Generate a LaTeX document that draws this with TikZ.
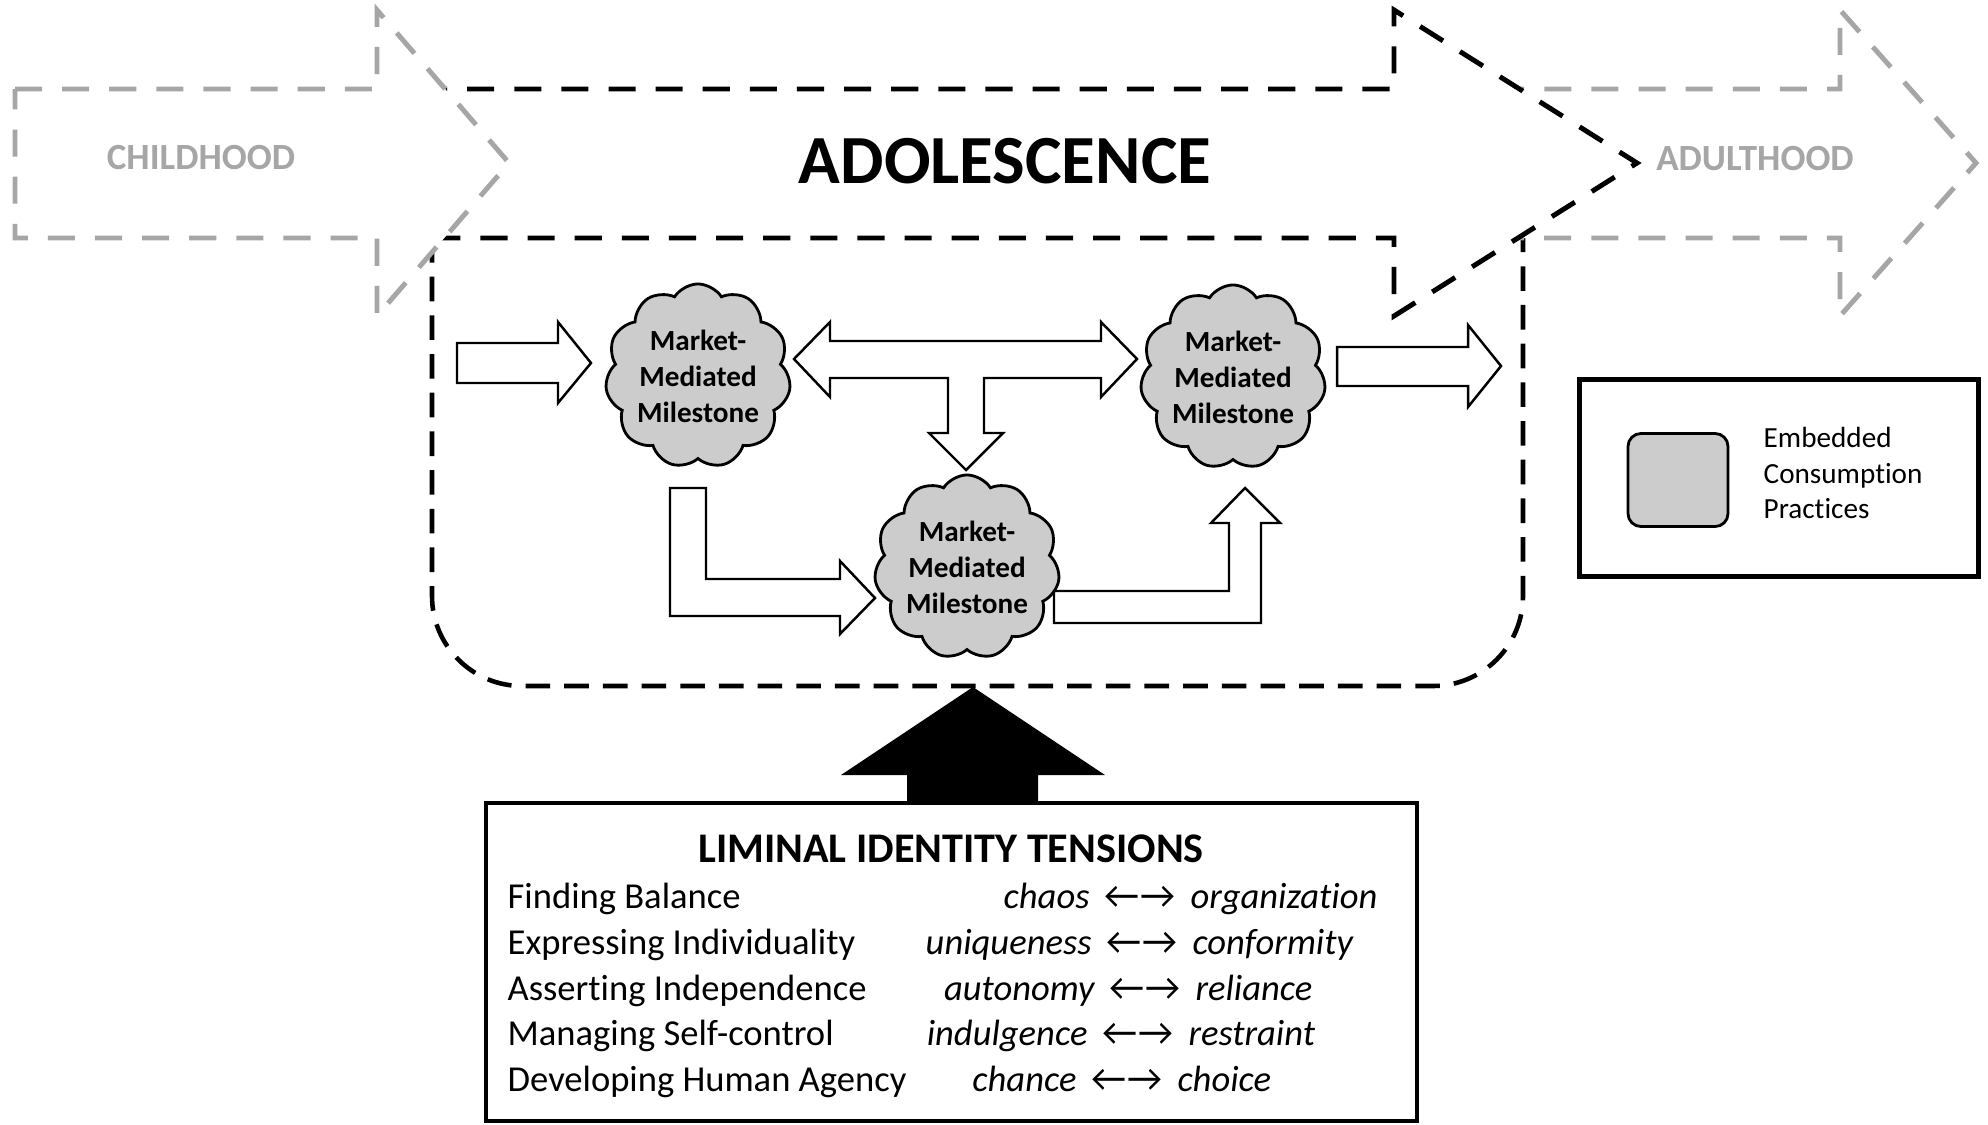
\documentclass[tikz,border=0pt]{standalone}
\usepackage{fontspec}
\setmainfont{Carlito}[Ligatures=NoCommon]
\usepackage{tikz}
\usetikzlibrary{shapes.symbols}

\begin{document}
\begin{tikzpicture}[x=0.01cm, y=-0.01cm,
    stage/.style={line width=1.4pt, dash pattern=on 7.7pt off 5.7pt, fill=white},
    blockarrow/.style={draw=black, line width=0.7pt, fill=white},
    milestone/.style={cloud, cloud puffs=11, cloud puff arc=115, cloud ignores aspect,
        draw=black, line width=0.8pt, fill=black!20, inner sep=0pt,
        minimum width=1.72cm, minimum height=1.84cm, align=center,
        font=\bfseries\fontsize{8.3}{10.2}\selectfont},
    stagename/.style={anchor=base, text=black!35, font=\bfseries\fontsize{10.5}{12}\selectfont},
    rowtext/.style={inner sep=0pt, font=\fontsize{10.4}{12}\selectfont},
  ]
  \useasboundingbox (0,0) rectangle (1988,1124);

  % the frame round the milestones
  \draw[line width=1.3pt, dash pattern=on 7pt off 4pt, rounded corners=0.9cm]
    (432,238) -- (432,686) -- (1523,686) -- (1523,238);

  % the three stages, back to front
  \draw[stage, draw=black!35] (1450,89) -- (1840,89) -- (1840,10) -- (1976,163) -- (1840,316) -- (1840,238) -- (1450,238) -- cycle;
  \draw[stage, draw=black] (420,89) -- (1394,89) -- (1394,10) -- (1637,163) -- (1394,316) -- (1394,238) -- (420,238) -- cycle;
  \draw[stage, draw=black!35] (15,89) -- (377,89) -- (377,10) -- (509,163) -- (377,316) -- (377,238) -- (15,238) -- cycle;

  \node[stagename] (child) at (201,169) {CHILDHOOD};
  \node[anchor=base, font=\bfseries\fontsize{19.6}{23}\selectfont] (adol) at (1005,183) {ADOLESCENCE};
  \node[stagename] (adult) at (1755,170) {ADULTHOOD};

  % milestones
  \node[milestone] (mmA) at (698,376) {Market-\\Mediated\\Milestone};
  \node[milestone] (mmB) at (967,567) {Market-\\Mediated\\Milestone};
  \node[milestone] (mmC) at (1233,377) {Market-\\Mediated\\Milestone};

  % block arrows
  \draw[blockarrow] (457,343) -- (558,343) -- (558,322) -- (591,363) -- (558,403) -- (558,383) -- (457,383) -- cycle;
  \draw[blockarrow] (794,359) -- (830,322) -- (830,341) -- (1101,341) -- (1101,322) -- (1137,359) -- (1101,397) -- (1101,378)
    -- (984,378) -- (984,433) -- (1003,433) -- (966,470) -- (929,433) -- (948,433) -- (948,378) -- (830,378) -- (830,397) -- cycle;
  \draw[blockarrow] (670,488) -- (706,488) -- (706,579) -- (840,579) -- (840,561) -- (875,598) -- (840,634) -- (840,616) -- (670,616) -- cycle;
  \draw[blockarrow] (1054,591) -- (1229,591) -- (1229,523) -- (1211,523) -- (1245,488) -- (1280,523) -- (1261,523) -- (1261,623) -- (1054,623) -- cycle;
  \draw[blockarrow] (1337,347) -- (1468,347) -- (1468,325) -- (1501,366) -- (1468,407) -- (1468,386) -- (1337,386) -- cycle;

  % legend
  \node[draw, line width=1.4pt, minimum width=3.98cm, minimum height=1.96cm, inner sep=0pt] (legend) at (1779,478) {};
  \node[draw, line width=0.8pt, fill=black!20, rounded corners=3.7pt, minimum width=1cm, minimum height=0.93cm, inner sep=0pt] (key) at (1678,480) {};
  \node[anchor=west, align=left, inner sep=0pt, font=\fontsize{8.3}{10}\selectfont] (keytext) at (1763,473) {Embedded\\Consumption\\Practices};

  % tensions
  \fill (907,803) -- (907,775) -- (841,775) -- (973,687) -- (1105,775) -- (1038,775) -- (1038,803) -- cycle;
  \node[draw, line width=1.2pt, minimum width=9.31cm, minimum height=3.18cm, inner sep=0pt] (tensions) at (951.5,962) {};
  \node[anchor=base, font=\bfseries\fontsize{12}{14}\selectfont] (title) at (951,862) {LIMINAL IDENTITY TENSIONS};
  \foreach \y/\task/\from/\to/\mid [count=\i] in {
      908/Finding Balance/chaos/organization/1140,
      954/Expressing Individuality/uniqueness/conformity/1142,
      1000/Asserting Independence/autonomy/reliance/1145,
      1045/Managing Self-control/indulgence/restraint/1138,
      1091/Developing Human Agency/chance/choice/1127}
  {
    \node[rowtext, anchor=base west] (task\i) at (507,\y) {\task};
    \node[anchor=base, inner sep=0pt, font=\fontsize{11}{12}\selectfont] (arr\i) at (\mid,\y) {←→};
    \node[rowtext, anchor=base east, inner xsep=4pt] (from\i) at (arr\i.base west) {\itshape\from};
    \node[rowtext, anchor=base west, inner xsep=4pt] (to\i) at (arr\i.base east) {\itshape\to};
  }
\end{tikzpicture}
\end{document}
